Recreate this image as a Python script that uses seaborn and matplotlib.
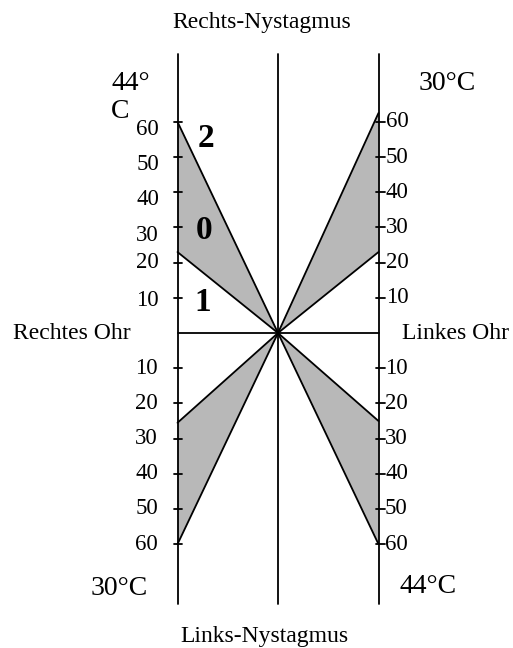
import pandas as pd
import matplotlib.pyplot as plt
import seaborn as sns

# Werte aus dem Diagramm (Nystagmus-Frequenz, Schläge pro 30 s)
tick_values = [10, 20, 30, 40, 50, 60]
# oberer linker Bereich: Beschriftungen leicht unterhalb der Striche
upper_left_label_pos = [9.1, 20, 27.8, 37.9, 48, 57.7]

# Fächer: (Seite, Richtung, unterer Wert, oberer Wert)
fans = pd.DataFrame({
    'ear': ['rechts', 'links', 'rechts', 'links'],
    'side': [-1, 1, -1, 1],
    'sign': [1, 1, -1, -1],
    'inner': [23, 23, 25.5, 25],
    'outer': [60, 62.5, 60, 60],
})

sns.set_theme(style='white')
plt.rcParams['font.family'] = ['Liberation Serif', 'DejaVu Serif']
plt.rcParams['text.color'] = 'black'

fig = plt.figure(figsize=(5.13, 6.48), dpi=100)
ax = fig.add_axes([0, 0, 1, 1])

# pixel -> data helpers (center at x=278px, y=333px)
def px(x):
    return (x - 278) / 100.5

def py(y):
    return (333 - y) / 3.52

ax.set_xlim(px(0), px(513))
ax.set_ylim(py(648), py(0))
ax.axis('off')

# shaded fans
rays = []
for i, r in fans.iterrows():
    xs = [0, r['side'], r['side']]
    ys = [0, r['sign'] * r['outer'], r['sign'] * r['inner']]
    ax.fill(xs, ys, color='#b8b8b8', lw=0, zorder=1)
    rays.append({'ray': f'{i}a', 'x': 0, 'y': 0})
    rays.append({'ray': f'{i}a', 'x': r['side'], 'y': r['sign'] * r['outer']})
    rays.append({'ray': f'{i}b', 'x': 0, 'y': 0})
    rays.append({'ray': f'{i}b', 'x': r['side'], 'y': r['sign'] * r['inner']})
rays = pd.DataFrame(rays)
sns.lineplot(data=rays, x='x', y='y', units='ray', estimator=None,
             color='black', lw=1.3, sort=False, ax=ax, zorder=3)

# axes frame lines
for xv in [-1, 0, 1]:
    ax.plot([xv, xv], [py(604), py(54)], color='black', lw=1.3, zorder=4)
ax.plot([-1, 1], [0, 0], color='black', lw=1.3, zorder=4)

# ticks and labels
fs = 16.5
for v, lp in zip(tick_values, upper_left_label_pos):
    ax.plot([px(174), px(182)], [v, v], color='black', lw=1.3)
    ax.plot([px(174), px(182)], [-v, -v], color='black', lw=1.3)
    ax.plot([px(376), px(385)], [v, v], color='black', lw=1.3)
    ax.plot([px(376), px(385)], [-v, -v], color='black', lw=1.3)
    ax.text(px(159), lp, str(v), ha='right', va='center', fontsize=fs, color='black')
    ax.text(px(158), -v, str(v), ha='right', va='center', fontsize=fs, color='black')
    ax.text(px(386), v, str(v), ha='left', va='center', fontsize=fs, color='black')
    ax.text(px(385), -v, str(v), ha='left', va='center', fontsize=fs, color='black')

# region numbers
bold = dict(ha='center', va='center', fontsize=24, fontweight='bold', color='black')
ax.text(px(206), py(138), '2', **bold)
ax.text(px(204), py(230), '0', **bold)
ax.text(px(203), py(302), '1', **bold)

# titles and side labels
ax.text(px(262), py(28), 'Rechts-Nystagmus', ha='center', va='baseline', fontsize=17, color='black')
ax.text(px(264), py(642), 'Links-Nystagmus', ha='center', va='baseline', fontsize=17, color='black')
ax.text(px(13), 0, 'Rechtes Ohr', ha='left', va='center', fontsize=17, color='black')
ax.text(px(402), 0, 'Linkes Ohr', ha='left', va='center', fontsize=17, color='black')

ax.text(px(111), py(90), '44°', ha='left', va='baseline', fontsize=20, color='black')
ax.text(px(111), py(118), 'C', ha='left', va='baseline', fontsize=20, color='black')
ax.text(px(419), py(90), '30°C', ha='left', va='baseline', fontsize=20, color='black')
ax.text(px(148), py(595), '30°C', ha='right', va='baseline', fontsize=20, color='black')
ax.text(px(400), py(593), '44°C', ha='left', va='baseline', fontsize=20, color='black')

fig.savefig('out.png', dpi=100)
